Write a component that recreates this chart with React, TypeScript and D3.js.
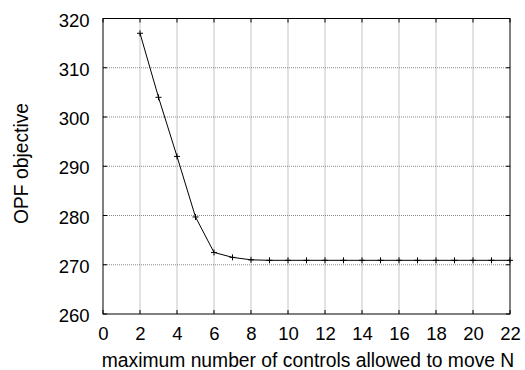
import React from "react";
import * as d3 from "d3";

const xValues = [2, 3, 4, 5, 6, 7, 8, 9, 10, 11, 12, 13, 14, 15, 16, 17, 18, 19, 20, 21, 22];
const yValues = [317, 304, 292, 279.7, 272.5, 271.5, 271.0, 270.9, 270.9, 270.9, 270.9, 270.9, 270.9, 270.9, 270.9, 270.9, 270.9, 270.9, 270.9, 270.9, 270.9];
const xTicks = [0, 2, 4, 6, 8, 10, 12, 14, 16, 18, 20, 22];
const yTicks = [260, 270, 280, 290, 300, 310, 320];
const xLabel = "maximum number of controls allowed to move N";
const yLabel = "OPF objective";

const W = 525, H = 370;
const L = 103, R = 510, T = 18.5, B = 314;
const font = "'Liberation Sans', Arial, sans-serif";

export default function App() {
  const x = d3.scaleLinear().domain([0, 22]).range([L, R]);
  const y = d3.scaleLinear().domain([260, 320]).range([B, T]);
  const line = d3.line<number>().x((_, i) => x(xValues[i])).y((d) => y(d));
  const tk = 4;
  return (
    <svg width={W} height={H} style={{ position: "absolute", left: 0, top: 0, background: "#fff" }}>
      <rect x={0} y={0} width={W} height={H} fill="#fff" />
      {xTicks.slice(1, -1).map((t) => (
        <line key={"gx" + t} x1={x(t)} x2={x(t)} y1={T} y2={B} stroke="#888" strokeWidth={1} strokeDasharray="1,1" />
      ))}
      {yTicks.slice(1, -1).map((t) => (
        <line key={"gy" + t} x1={L} x2={R} y1={y(t)} y2={y(t)} stroke="#888" strokeWidth={1} strokeDasharray="1,1" />
      ))}
      {xTicks.map((t) => (
        <g key={"tx" + t}>
          <line x1={x(t)} x2={x(t)} y1={B} y2={B - tk} stroke="#000" />
          <line x1={x(t)} x2={x(t)} y1={T} y2={T + tk} stroke="#000" />
          <text x={x(t) + 0.5} y={339.5} textAnchor="middle" fontFamily={font} fontSize={18.5} fill="#000">{t}</text>
        </g>
      ))}
      {yTicks.map((t) => (
        <g key={"ty" + t}>
          <line x1={L} x2={L + tk} y1={y(t)} y2={y(t)} stroke="#000" />
          <line x1={R} x2={R - tk} y1={y(t)} y2={y(t)} stroke="#000" />
          <text x={89.5} y={y(t) + 8} textAnchor="end" fontFamily={font} fontSize={18.5} fill="#000">{t}</text>
        </g>
      ))}
      <rect x={L} y={T} width={R - L} height={B - T} fill="none" stroke="#000" strokeWidth={1} />
      <path d={line(yValues) || ""} fill="none" stroke="#000" strokeWidth={1} />
      {xValues.map((v, i) => (
        <g key={"m" + i}>
          <line x1={x(v) - 3} x2={x(v) + 3} y1={y(yValues[i])} y2={y(yValues[i])} stroke="#000" />
          <line x1={x(v)} x2={x(v)} y1={y(yValues[i]) - 3} y2={y(yValues[i]) + 3} stroke="#000" />
        </g>
      ))}
      <text x={308} y={367} textAnchor="middle" fontFamily={font} fontSize={19.3} fill="#000">{xLabel}</text>
      <text transform={`translate(27.5,163.5) rotate(-90)`} textAnchor="middle" fontFamily={font} fontSize={19.3} fill="#000">{yLabel}</text>
    </svg>
  );
}
